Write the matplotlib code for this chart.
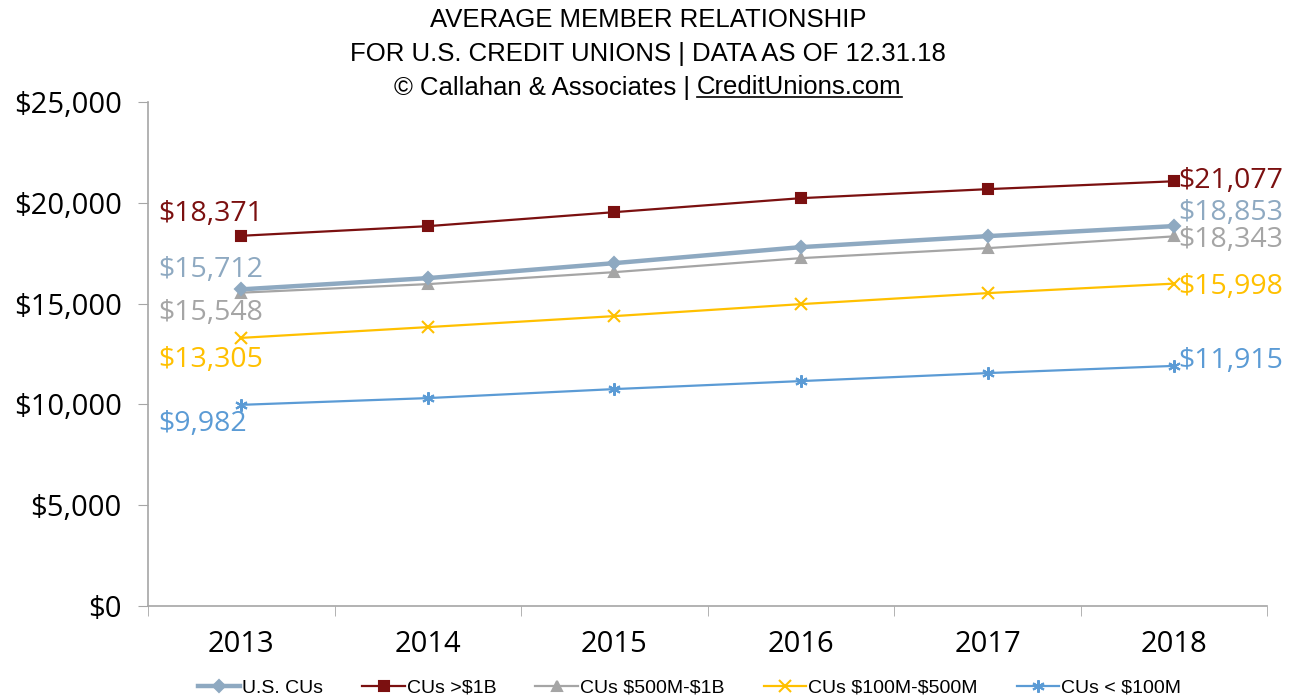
import numpy as np
import matplotlib.pyplot as plt
from matplotlib.lines import Line2D
from matplotlib.ticker import FuncFormatter

plt.rcParams['text.parse_math'] = False

# Data
years = ['2013', '2014', '2015', '2016', '2017', '2018']
series_names = ['U.S. CUs', 'CUs >$1B', 'CUs $500M-$1B', 'CUs $100M-$500M', 'CUs < $100M']
us_cus = [15712, 16270, 17014, 17808, 18353, 18853]
over_1b = [18371, 18849, 19544, 20238, 20685, 21077]
cu_500m_1b = [15548, 15972, 16567, 17262, 17758, 18343]
cu_100m_500m = [13305, 13839, 14385, 14980, 15526, 15998]
under_100m = [9982, 10317, 10764, 11161, 11558, 11915]

# Styles
colors = ['#8EA9C1', '#7B1010', '#A5A5A5', '#FFC000', '#5B9BD5']
markers = ['D', 's', '^', 'x', (6, 2, 0)]
msizes = [6, 7, 7, 8, 9]
widths = [3.2, 1.6, 1.6, 1.6, 1.6]
# label offsets in pixels (first point, last point)
left_dy = [19, 22, -20, -22, -19]
right_dy = [13, 0, -4, -3, 5]

label_font = ['Liberation Sans Narrow', 'Liberation Sans']
num_font = 'Open Sans'

fig = plt.figure(figsize=(12.96, 7.0), dpi=100)
ax = fig.add_axes([0.1142, 0.1343, 0.8638, 0.7197])

x = np.arange(len(years))
all_series = [us_cus, over_1b, cu_500m_1b, cu_100m_500m, under_100m]
# draw others first, U.S. CUs on top
order = [1, 2, 3, 4, 0]
for i in order:
    vals = all_series[i]
    ax.plot(x, vals, color=colors[i], marker=markers[i], markersize=msizes[i],
            markeredgewidth=1.5, linewidth=widths[i], label=series_names[i],
            zorder=5 if i == 0 else 3)
    ax.annotate('${:,}'.format(vals[0]), (x[0], vals[0]), xytext=(-83, left_dy[i]),
                textcoords='offset pixels', ha='left', va='center',
                color=colors[i], fontsize=20.5, family=num_font)
    ax.annotate('${:,}'.format(vals[-1]), (x[-1], vals[-1]), xytext=(4, right_dy[i]),
                textcoords='offset pixels', ha='left', va='center',
                color=colors[i], fontsize=20.5, family=num_font)

ax.set_xlim(-0.5, len(years) - 0.5)
ax.set_ylim(0, 25000)
ax.set_yticks(np.arange(0, 25001, 5000))
ax.yaxis.set_major_formatter(FuncFormatter(lambda v, p: '${:,.0f}'.format(v)))
ax.set_xticks(x)
ax.set_xticklabels(years)
ax.set_xticks(np.arange(-0.5, len(years), 1.0), minor=True)
ax.tick_params(axis='x', which='major', length=0, pad=17, labelsize=21)
ax.tick_params(axis='x', which='minor', length=7, color='#A6A6A6', direction='out')
ax.tick_params(axis='y', length=7, color='#A6A6A6', direction='out', pad=12, labelsize=21)
for lab in ax.get_xticklabels() + ax.get_yticklabels():
    lab.set_family(num_font)

for s in ['top', 'right']:
    ax.spines[s].set_visible(False)
for s in ['left', 'bottom']:
    ax.spines[s].set_color('#A6A6A6')
    ax.spines[s].set_linewidth(1.2)

handles, labels = ax.get_legend_handles_labels()
idx = [labels.index(n) for n in series_names]
leg = fig.legend([handles[k] for k in idx], [labels[k] for k in idx],
                 loc='center', bbox_to_anchor=(0.532, 0.017), ncol=5, frameon=False,
                 prop={'family': label_font, 'size': 14}, handlelength=2.2,
                 handletextpad=0.1, columnspacing=2.0)

# Titles
fig.text(0.5, 0.971, 'AVERAGE MEMBER RELATIONSHIP', ha='center', va='center',
         fontsize=18.5, family=label_font)
fig.text(0.5, 0.923, 'FOR U.S. CREDIT UNIONS | DATA AS OF 12.31.18', ha='center',
         va='center', fontsize=18.5, family=label_font)
t1 = fig.text(0.3, 0.875, '\u00a9 Callahan & Associates | ', ha='left', va='center',
              fontsize=18.5, family=label_font)
t2 = fig.text(0.3, 0.875, 'CreditUnions.com', ha='left', va='center',
              fontsize=18.5, family=label_font)

fig.canvas.draw()
r = fig.canvas.get_renderer()
e1 = t1.get_window_extent(r)
e2 = t2.get_window_extent(r)
W = fig.bbox.width
total = e1.width + e2.width
start = W / 2 - total / 2
t1.set_x(start / W)
t2.set_x((start + e1.width) / W)
fig.canvas.draw()
e2 = t2.get_window_extent(r)
uy = (e2.y0 + 3) / fig.bbox.height
fig.add_artist(Line2D([e2.x0 / W, e2.x1 / W], [uy, uy], color='black', linewidth=1.2,
                      transform=fig.transFigure))

fig.savefig('out.png', dpi=100)
